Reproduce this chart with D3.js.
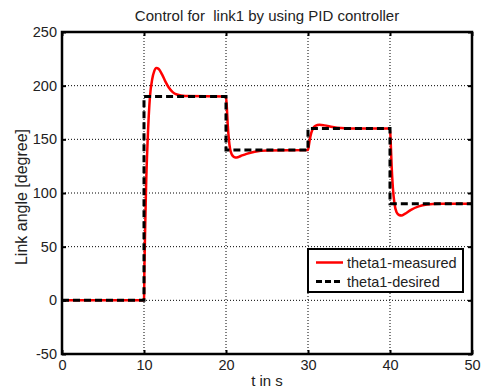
<!DOCTYPE html>
<html>
  <head>
    <meta charset="utf-8">
    <script src="https://d3js.org/d3.v7.min.js"></script>
    <style>
    body {
      margin: 0;
      background: #fff;
    }

    text {
      font-family: "Liberation Sans", Arial, sans-serif;
      fill: #222;
    }
  </style>
  </head>
  <body>
    <div id="chart"></div>
    <script>
    // desired trajectory (step reference)
    var desiredT = [0, 10, 10, 20, 20, 30, 30, 40, 40, 50];
    var desiredV = [0, 0, 190, 190, 140, 140, 160, 160, 90, 90];

    var measuredT = [0, 10, 10.05, 10.15, 10.25, 10.45, 10.73, 11.0, 11.25, 11.5, 11.8, 12.2, 12.6, 13, 13.5, 14, 15, 20,
      20.1, 20.2, 20.35, 20.5, 20.7, 21.0, 21.3, 21.8, 22.5, 23.5, 25, 30,
      30.1, 30.25, 30.4, 30.6, 30.9, 31.4, 32, 33, 34, 35, 40,
      40.1, 40.2, 40.35, 40.55, 40.8, 41.1, 41.4, 41.8, 42.5, 43.5, 44.5, 46, 50];
    var measuredV = [0, 0, 30, 70, 105, 150, 190, 206, 213.5, 216.5, 215.5, 210.5, 204, 198.5, 194, 191.8, 190.3, 190,
      180, 165, 150, 141, 136, 133.5, 133, 134.5, 136.5, 138.5, 139.7, 140,
      144, 151, 156, 160, 162.5, 163.5, 163, 161.5, 160.5, 160.1, 160,
      145, 125, 105, 90, 82, 79.5, 79, 80.5, 84, 87.5, 89.2, 89.9, 90];

    var xTicks = [0, 10, 20, 30, 40, 50];
    var yTicks = [-50, 0, 50, 100, 150, 200, 250];

    var seriesNames = ["theta1-measured", "theta1-desired"];

    var width = 481, height = 389;
    var margin = { top: 32, right: 9, bottom: 35, left: 62 };
    var w = width - margin.left - margin.right;
    var h = height - margin.top - margin.bottom;

    var svg = d3.select("#chart").append("svg")
      .attr("width", width)
      .attr("height", height);

    var g = svg.append("g")
      .attr("transform", "translate(" + margin.left + "," + margin.top + ")");

    var x = d3.scaleLinear().domain([0, 50]).range([0, w]);
    var y = d3.scaleLinear().domain([-50, 250]).range([h, 0]);

    // grid
    g.append("g")
      .selectAll("line")
      .data(xTicks.slice(1, -1))
      .enter().append("line")
      .attr("x1", d => x(d)).attr("x2", d => x(d))
      .attr("y1", 0).attr("y2", h)
      .attr("stroke", "#000").attr("stroke-width", 1)
      .attr("stroke-dasharray", "1,2");

    g.append("g")
      .selectAll("line")
      .data(yTicks.slice(1, -1))
      .enter().append("line")
      .attr("x1", 0).attr("x2", w)
      .attr("y1", d => y(d)).attr("y2", d => y(d))
      .attr("stroke", "#000").attr("stroke-width", 1)
      .attr("stroke-dasharray", "1,2");

    // lines
    var measured = measuredT.map((t, i) => [t, measuredV[i]]);
    var desired = desiredT.map((t, i) => [t, desiredV[i]]);

    g.append("path")
      .datum(measured)
      .attr("d", d3.line().x(d => x(d[0])).y(d => y(d[1])).curve(d3.curveMonotoneX))
      .attr("fill", "none")
      .attr("stroke", "#ff0000")
      .attr("stroke-width", 2.5);

    g.append("path")
      .datum(desired)
      .attr("d", d3.line().x(d => x(d[0])).y(d => y(d[1])))
      .attr("fill", "none")
      .attr("stroke", "#000")
      .attr("stroke-width", 3)
      .attr("stroke-dasharray", "7,4");

    // axes (ticks inside, on all four sides)
    var fmt = d => String(d);
    var axB = g.append("g").attr("transform", "translate(0," + h + ")")
      .call(d3.axisBottom(x).tickValues(xTicks).tickSizeInner(-4).tickSizeOuter(0).tickPadding(6).tickFormat(fmt));
    var axT = g.append("g")
      .call(d3.axisTop(x).tickValues(xTicks).tickSizeInner(-4).tickSizeOuter(0).tickFormat(""));
    var axL = g.append("g")
      .call(d3.axisLeft(y).tickValues(yTicks).tickSizeInner(-4).tickSizeOuter(0).tickPadding(5).tickFormat(fmt));
    var axR = g.append("g").attr("transform", "translate(" + w + ",0)")
      .call(d3.axisRight(y).tickValues(yTicks).tickSizeInner(-4).tickSizeOuter(0).tickFormat(""));

    [axB, axT, axL, axR].forEach(function (a) {
      a.select(".domain").remove();
      a.selectAll(".tick line").attr("stroke", "#000").attr("stroke-width", 2);
      a.selectAll("text")
        .style("font-size", "14.5px")
        .style("font-family", "'Liberation Sans', Arial, sans-serif")
        .attr("fill", "#222");
    });

    // frame
    g.append("rect")
      .attr("x", 0).attr("y", 0)
      .attr("width", w).attr("height", h)
      .attr("fill", "none")
      .attr("stroke", "#000")
      .attr("stroke-width", 2.5);

    // title and labels
    svg.append("text")
      .attr("x", margin.left + w / 2)
      .attr("y", 21)
      .attr("text-anchor", "middle")
      .style("font-size", "15px")
      .style("white-space", "pre")
      .text("Control for  link1 by using PID controller");

    svg.append("text")
      .attr("x", margin.left + w / 2)
      .attr("y", 386)
      .attr("text-anchor", "middle")
      .style("font-size", "15px")
      .text("t in s");

    svg.append("text")
      .attr("transform", "translate(27,197) rotate(-90)")
      .attr("text-anchor", "middle")
      .style("font-size", "16px")
      .text("Link angle [degree]");

    // legend
    var lg = svg.append("g").attr("transform", "translate(308,249)");
    lg.append("rect")
      .attr("width", 155).attr("height", 43)
      .attr("fill", "#fff")
      .attr("stroke", "#000")
      .attr("stroke-width", 2);

    var items = lg.selectAll("g.item")
      .data(seriesNames)
      .enter().append("g")
      .attr("class", "item")
      .attr("transform", (d, i) => "translate(0," + (13.5 + i * 19) + ")");

    items.append("line")
      .attr("x1", 8).attr("x2", 35)
      .attr("stroke", (d, i) => i === 0 ? "#ff0000" : "#000")
      .attr("stroke-width", (d, i) => i === 0 ? 2.5 : 3)
      .attr("stroke-dasharray", (d, i) => i === 0 ? null : "6,3");

    items.append("text")
      .attr("x", 39)
      .attr("dy", "0.35em")
      .style("font-size", "14.5px")
      .text(d => d);
  </script>
  </body>
</html>
